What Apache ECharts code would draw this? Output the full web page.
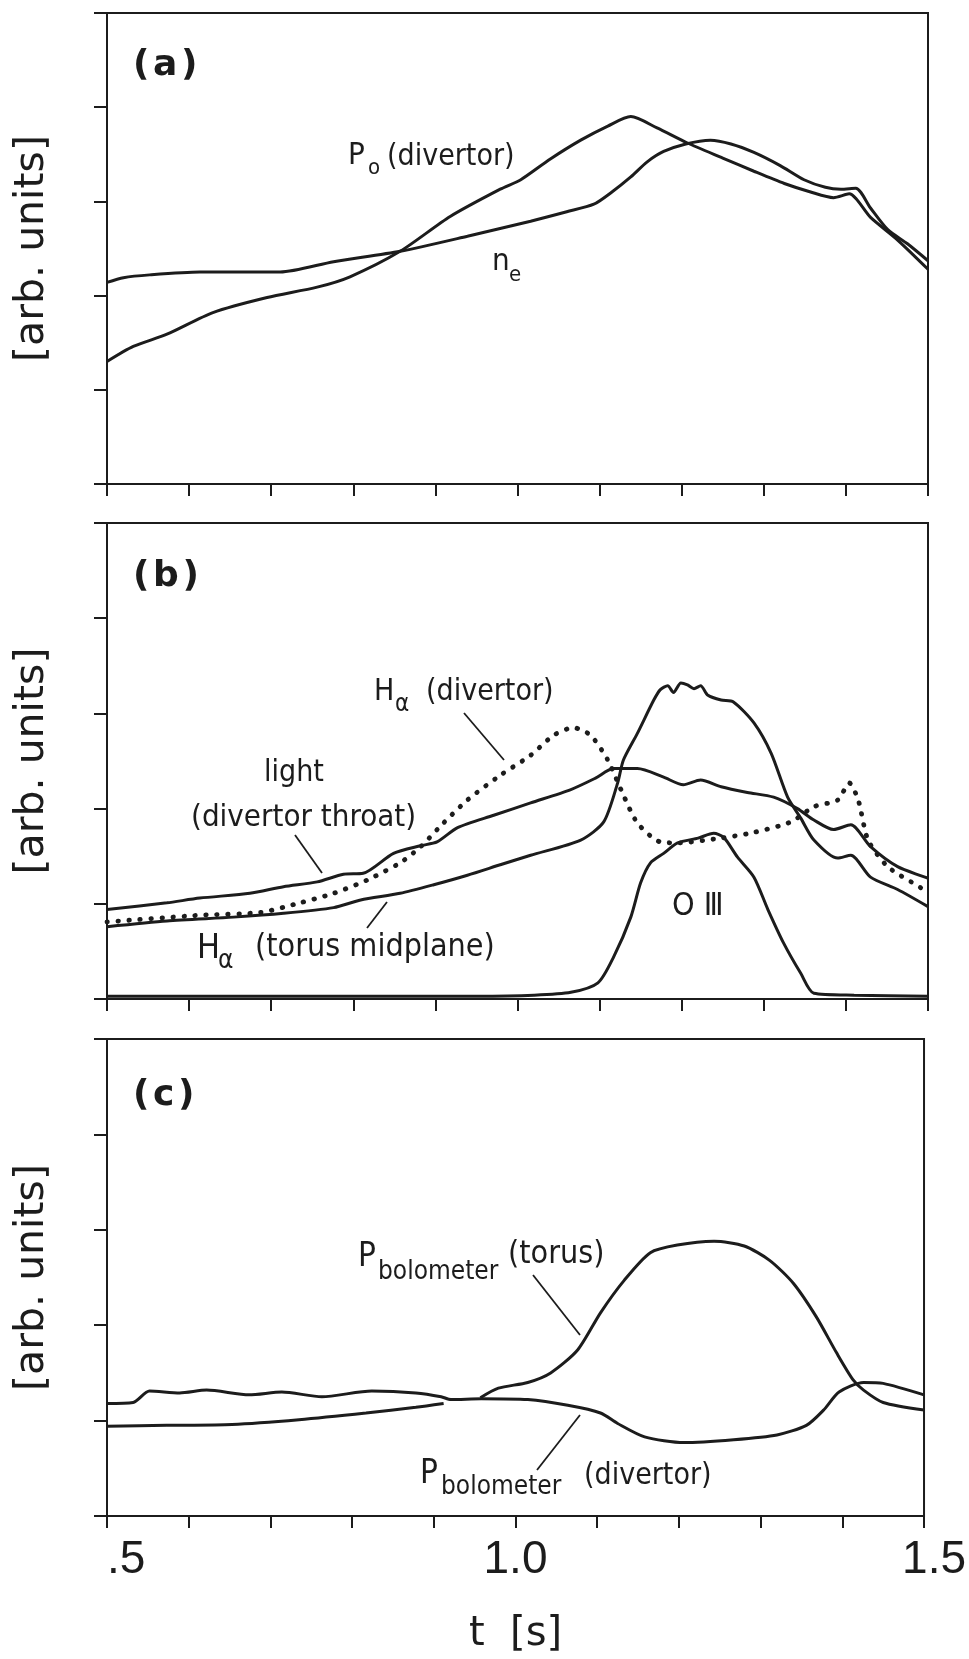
<!DOCTYPE html>
<html>
<head>
<meta charset="utf-8">
<script src="https://cdn.jsdelivr.net/npm/echarts@6/dist/echarts.min.js"></script>
<style>
  html, body { margin: 0; background: #fff; }
  #chart { width: 969px; height: 1659px; }
</style>
</head>
<body>
<div id="chart"></div>
<script>
// values are in tick units (0..5 per panel), time in seconds
// panel (a)
const poDivertor = [[0.5,1.30],[0.532,1.46],[0.573,1.59],[0.629,1.82],[0.695,1.98],[0.756,2.09],[0.796,2.20],[0.857,2.47],[0.918,2.84],[0.979,3.13],[1.004,3.23],[1.04,3.45],[1.077,3.65],[1.110,3.80],[1.138,3.90],[1.170,3.78],[1.207,3.62],[1.250,3.46],[1.288,3.32],[1.325,3.19],[1.357,3.10],[1.385,3.04],[1.404,3.08],[1.430,2.83],[1.463,2.59],[1.5,2.28]];
const neDensity = [[0.5,2.14],[0.520,2.19],[0.552,2.22],[0.613,2.25],[0.674,2.25],[0.711,2.25],[0.776,2.36],[0.857,2.47],[0.939,2.63],[1.016,2.79],[1.060,2.89],[1.093,2.97],[1.115,3.10],[1.138,3.26],[1.158,3.42],[1.178,3.53],[1.205,3.61],[1.235,3.65],[1.260,3.61],[1.288,3.52],[1.320,3.38],[1.349,3.23],[1.375,3.15],[1.394,3.13],[1.412,3.14],[1.430,2.93],[1.451,2.70],[1.475,2.55],[1.5,2.37]];

// panel (b)
const lightThroat = [[0.5,0.94],[0.573,1.01],[0.613,1.06],[0.674,1.11],[0.715,1.18],[0.756,1.23],[0.788,1.31],[0.812,1.32],[0.849,1.53],[0.882,1.61],[0.902,1.65],[0.927,1.80],[0.971,1.93],[1.016,2.06],[1.065,2.20],[1.095,2.32],[1.117,2.42],[1.146,2.42],[1.178,2.33],[1.202,2.25],[1.223,2.30],[1.248,2.23],[1.280,2.17],[1.312,2.12],[1.341,2.00],[1.361,1.88],[1.385,1.78],[1.406,1.83],[1.430,1.60],[1.463,1.39],[1.5,1.27]];
const haTorus = [[0.5,0.76],[0.573,0.82],[0.654,0.86],[0.715,0.90],[0.776,0.96],[0.809,1.04],[0.857,1.11],[0.898,1.20],[0.939,1.30],[0.979,1.41],[1.016,1.51],[1.077,1.67],[1.105,1.86],[1.122,2.27],[1.129,2.51],[1.146,2.79],[1.166,3.14],[1.174,3.25],[1.183,3.29],[1.190,3.22],[1.199,3.32],[1.207,3.30],[1.215,3.26],[1.223,3.29],[1.232,3.19],[1.248,3.14],[1.263,3.12],[1.288,2.90],[1.309,2.58],[1.329,2.12],[1.345,1.90],[1.361,1.67],[1.390,1.48],[1.406,1.51],[1.430,1.28],[1.463,1.15],[1.5,0.97]];
const haDivertor = [[0.5,0.81],[0.613,0.88],[0.687,0.91],[0.735,1.01],[0.776,1.11],[0.817,1.25],[0.857,1.43],[0.882,1.60],[0.910,1.85],[0.939,2.09],[0.979,2.35],[1.016,2.56],[1.044,2.77],[1.068,2.85],[1.089,2.77],[1.110,2.51],[1.126,2.20],[1.146,1.85],[1.174,1.65],[1.195,1.64],[1.248,1.69],[1.288,1.75],[1.333,1.86],[1.361,2.02],[1.390,2.09],[1.404,2.27],[1.415,2.09],[1.427,1.67],[1.451,1.39],[1.491,1.17],[1.5,1.12]];
const oxygenIII = [[0.5,0.03],[0.8,0.03],[0.95,0.03],[1.02,0.04],[1.065,0.07],[1.098,0.17],[1.117,0.44],[1.138,0.86],[1.150,1.22],[1.162,1.43],[1.178,1.53],[1.195,1.64],[1.220,1.69],[1.239,1.74],[1.251,1.70],[1.268,1.49],[1.288,1.28],[1.305,0.94],[1.324,0.59],[1.345,0.27],[1.361,0.06],[1.41,0.04],[1.5,0.03]];

// panel (c)
const pbolTorus = [[0.5,0.94],[0.573,0.95],[0.653,0.96],[0.735,1.01],[0.817,1.08],[0.878,1.14],[0.912,1.18],[0.935,null],[0.957,1.24],[0.979,1.34],[1.015,1.40],[1.043,1.50],[1.076,1.74],[1.104,2.13],[1.133,2.47],[1.165,2.76],[1.198,2.84],[1.243,2.88],[1.280,2.83],[1.311,2.68],[1.340,2.44],[1.368,2.09],[1.393,1.71],[1.413,1.43],[1.426,1.32],[1.450,1.19],[1.5,1.11]];
const pbolDivertor = [[0.5,1.18],[0.532,1.19],[0.552,1.31],[0.589,1.29],[0.622,1.32],[0.674,1.27],[0.714,1.30],[0.763,1.25],[0.824,1.31],[0.878,1.29],[0.909,1.25],[0.921,1.22],[0.958,1.23],[1.015,1.22],[1.064,1.16],[1.104,1.08],[1.125,0.97],[1.158,0.83],[1.206,0.77],[1.267,0.80],[1.320,0.85],[1.356,0.95],[1.377,1.11],[1.396,1.30],[1.426,1.40],[1.450,1.39],[1.5,1.27]];

const xTicks = { 5: '.5', 10: '1.0', 15: '{r|1.5}' };

const INK = '#1c1c1c';
const TICK_FONT = 'Liberation Sans';
const chart = echarts.init(document.getElementById('chart'), null, { renderer: 'canvas' });

const gridTops = [13, 523, 1039];
const gridHeights = [471, 476, 477];

function xAxisFor(i) {
  const last = i === 2;
  return {
    gridIndex: i, type: 'value', min: 0.5, max: 1.5, interval: 0.1,
    axisLine: { lineStyle: { color: INK, width: 2 } },
    axisTick: { inside: false, length: 12, lineStyle: { color: INK, width: 2 } },
    splitLine: { show: false },
    axisLabel: {
      show: last, margin: 21, color: INK, fontSize: 46, fontFamily: TICK_FONT,
      showMinLabel: true, showMaxLabel: true, alignMinLabel: 'left',
      formatter: v => xTicks[Math.round(v * 10)] || '',
      rich: { r: { fontSize: 46, fontFamily: TICK_FONT, color: INK, padding: [0, 0, 0, 20] } }
    },
    name: last ? 't  [s]' : '', nameLocation: 'middle', nameGap: 99,
    nameTextStyle: { fontSize: 40, fontFamily: 'DejaVu Sans', color: INK }
  };
}

function yAxisFor(i) {
  return {
    gridIndex: i, type: 'value', min: 0, max: 5, interval: 1,
    axisLine: { show: true, lineStyle: { color: INK, width: 2 } },
    axisTick: { show: true, inside: false, length: 13, lineStyle: { color: INK, width: 2 } },
    axisLabel: { show: false },
    splitLine: { show: false },
    name: '[arb. units]', nameLocation: 'middle', nameGap: 54,
    nameTextStyle: { fontSize: 41, fontFamily: 'DejaVu Sans', color: INK }
  };
}

function line(name, data, i, dotted) {
  return {
    name: name, type: 'line', xAxisIndex: i, yAxisIndex: i, data: data,
    showSymbol: false, smooth: 0.25, connectNulls: false, silent: true,
    lineStyle: dotted
      ? { color: INK, width: 4.8, type: [0.5, 10.5], cap: 'round' }
      : { color: INK, width: 3 }
  };
}

// annotation text, placed by left edge and baseline
function txt(x, base, s, size, opts) {
  opts = opts || {};
  return {
    type: 'text', x: x, y: base - 0.33 * size, silent: true,
    style: {
      text: s, fill: INK, fontSize: size,
      fontFamily: opts.font || 'DejaVu Sans Condensed',
      fontWeight: opts.weight || 'normal',
      align: 'left', verticalAlign: 'middle'
    }
  };
}
function leader(x1, y1, x2, y2) {
  return { type: 'line', silent: true, shape: { x1: x1, y1: y1, x2: x2, y2: y2 }, style: { stroke: INK, lineWidth: 1.8 } };
}

const panelFont = { font: 'DejaVu Sans', weight: 'bold' };

const option = {
  backgroundColor: '#fff',
  animation: false,
  grid: gridTops.map((t, i) => ({
    left: 107, right: 41, top: t, height: gridHeights[i],
    show: true, borderColor: INK, borderWidth: 2, backgroundColor: 'transparent'
  })),
  xAxis: [0, 1, 2].map(xAxisFor),
  yAxis: [0, 1, 2].map(yAxisFor),
  series: [
    line('P0 (divertor)', poDivertor, 0),
    line('ne', neDensity, 0),
    line('light (divertor throat)', lightThroat, 1),
    line('H-alpha (torus midplane)', haTorus, 1),
    line('H-alpha (divertor)', haDivertor, 1, true),
    line('O III', oxygenIII, 1),
    line('P bolometer (torus)', pbolTorus, 2),
    line('P bolometer (divertor)', pbolDivertor, 2)
  ],
  graphic: [
    txt(133, 78, '(\u200aa\u200a)', 36, panelFont),
    txt(133, 589, '(\u200ab\u200a)', 36, panelFont),
    txt(133, 1108, '(\u200ac\u200a)', 36, panelFont),

    txt(348, 166, 'P', 31),
    txt(368, 176, 'o', 22),
    txt(387, 167, '(divertor)', 30),
    txt(492, 272, 'n', 31),
    txt(509, 283, 'e', 22),

    txt(374, 702, 'H', 30),
    txt(395, 713, 'α', 24),
    txt(426, 702, '(divertor)', 30),
    leader(464, 713, 504, 760),
    txt(264, 783, 'light', 30),
    txt(191, 828, '(divertor throat)', 31),
    leader(295, 835, 322, 873),
    txt(197, 960, 'H', 34),
    txt(218, 970, 'α', 26),
    txt(255, 958, '(torus midplane)', 32),
    leader(367, 928, 387, 902),
    txt(672, 917, 'O Ⅲ', 32),

    txt(358, 1268, 'P', 33),
    txt(378, 1281, 'bolometer', 26),
    txt(508, 1265, '(torus)', 32),
    leader(533, 1275, 580, 1335),
    txt(420, 1485, 'P', 33),
    txt(441, 1496, 'bolometer', 26),
    txt(584, 1486, '(divertor)', 30),
    leader(580, 1415, 537, 1470)
  ]
};

chart.setOption(option);
</script>
</body>
</html>
